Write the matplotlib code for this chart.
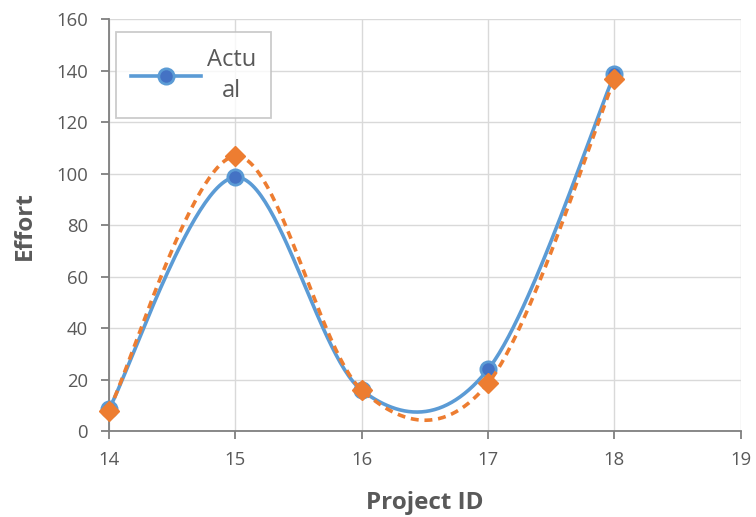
import numpy as np
import matplotlib
matplotlib.use("Agg")
import matplotlib.pyplot as plt
from matplotlib.lines import Line2D

project_ids = [14, 15, 16, 17, 18]
actual = [8.5, 98.6, 15.9, 24.0, 138.6]
predicted = [8.0, 106.8, 16.0, 18.6, 136.7]
x_ticks = [14, 15, 16, 17, 18, 19]
y_ticks = [0, 20, 40, 60, 80, 100, 120, 140, 160]


def smooth(xs, ys, n=60):
    xs = np.asarray(xs, float)
    ys = np.asarray(ys, float)
    px = np.concatenate([[xs[0]], xs, [xs[-1]]])
    py = np.concatenate([[ys[0]], ys, [ys[-1]]])
    ox, oy = [], []
    for i in range(1, len(px) - 2):
        p0 = np.array([px[i - 1], py[i - 1]])
        p1 = np.array([px[i], py[i]])
        p2 = np.array([px[i + 1], py[i + 1]])
        p3 = np.array([px[i + 2], py[i + 2]])
        c1 = p1 + (p2 - p0) / 6
        c2 = p2 - (p3 - p1) / 6
        t = np.linspace(0, 1, n)[:, None]
        b = ((1 - t) ** 3) * p1 + 3 * ((1 - t) ** 2) * t * c1 + 3 * (1 - t) * t ** 2 * c2 + t ** 3 * p2
        ox.extend(b[:, 0]); oy.extend(b[:, 1])
    return np.array(ox), np.array(oy)


plt.rcParams['font.family'] = ['Open Sans', 'DejaVu Sans']
fig = plt.figure(figsize=(7.56, 5.17), dpi=100)
ax = fig.add_axes([0.144, 0.166, 0.836, 0.797])

blue = '#5B9BD5'
orange = '#ED7D31'

sx, sy = smooth(project_ids, actual)
ax.plot(sx, sy, color=blue, lw=2.6, zorder=3, solid_capstyle='round', clip_on=False)
ax.plot(project_ids, actual, 'o', ms=11, mfc='#4472C4', mec=blue, mew=2, zorder=4, clip_on=False)

px_, py_ = smooth(project_ids, predicted)
ax.plot(px_, py_, color=orange, lw=2.6, ls=(0, (2.2, 1.6)), zorder=5, clip_on=False)
ax.plot(project_ids, predicted, 'D', ms=10, mfc=orange, mec=orange, zorder=6, clip_on=False)

ax.set_xlim(14, 19)
ax.set_ylim(0, 160)
ax.set_xticks(x_ticks)
ax.set_yticks(y_ticks)
ax.grid(True, color='#D9D9D9', lw=1)
ax.set_axisbelow(True)
for s in ['top', 'right']:
    ax.spines[s].set_visible(False)
for s in ['left', 'bottom']:
    ax.spines[s].set_color('#7F7F7F')
    ax.spines[s].set_linewidth(1.3)
ax.tick_params(axis='both', colors='#7F7F7F', labelcolor='#595959', labelsize=13.3, length=6, width=1.3)
ax.tick_params(axis='x', pad=8)
ax.tick_params(axis='y', pad=9)
ax.set_xlabel('Project ID', fontsize=17.5, fontweight='bold', color='#595959', labelpad=16)
ax.set_ylabel('Effort', fontsize=17.5, fontweight='bold', color='#595959', labelpad=14)

h = Line2D([], [], color=blue, lw=2.6, marker='o', ms=11, mfc='#4472C4', mec=blue, mew=2)
leg = ax.legend([h], ['Actu\nal'], loc='upper left', bbox_to_anchor=(0.011, 0.968),
                fontsize=17, frameon=True, fancybox=False, handlelength=2.95,
                borderpad=0.65, borderaxespad=0, labelcolor='#595959', handletextpad=0.25)
leg.get_frame().set_edgecolor('#BFBFBF')
leg.get_frame().set_linewidth(1.3)
for t in leg.get_texts():
    t.set_linespacing(1.4)
    t.set_multialignment('center')

fig.savefig('out.png', dpi=100)
